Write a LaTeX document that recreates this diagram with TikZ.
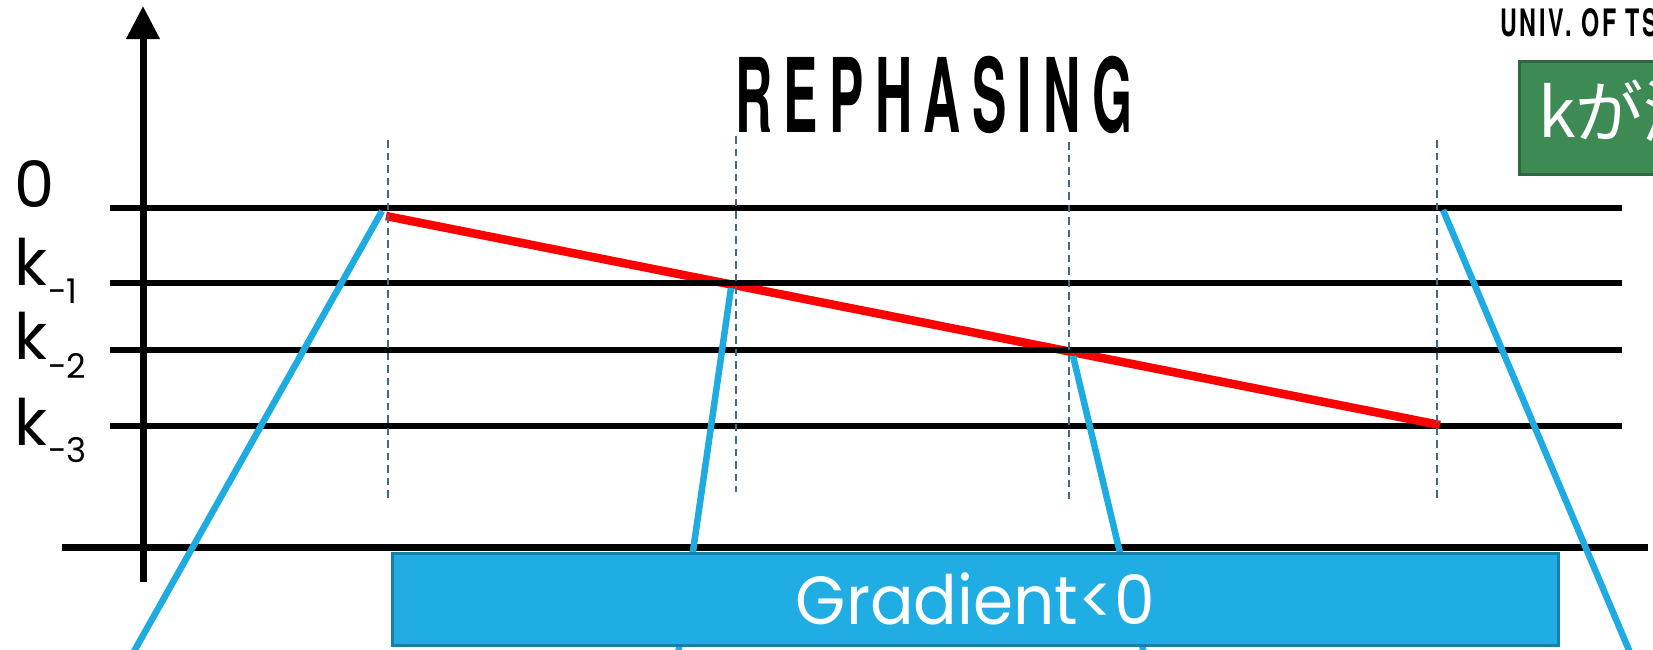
\documentclass[tikz,border=0pt]{standalone}
\usepackage{fontspec}
\setmainfont{Poppins}
\newfontfamily\condfont[LetterSpace=22]{TeX Gyre Heros}
\newfontfamily\condtightfont[LetterSpace=12]{TeX Gyre Heros}
\newfontfamily\cjkfont{Noto Sans CJK JP}
\usetikzlibrary{arrows.meta}

\definecolor{rayblue}{RGB}{29,171,226}
\definecolor{boxblue}{RGB}{31,173,227}
\definecolor{boxblueedge}{RGB}{24,128,168}
\definecolor{guideslate}{RGB}{69,104,133}
\definecolor{notegreen}{RGB}{62,138,85}
\definecolor{notegreenedge}{RGB}{47,104,64}

\newcommand{\lvlsub}[2]{\raisebox{-#1pt}{\fontsize{34}{34}\selectfont\kern1pt-#2}}

\tikzset{
  level/.style={line width=6pt, black},
  axisline/.style={line width=7pt, black},
  phase/.style={line width=8.5pt, red},
  guide/.style={line width=2pt, guideslate, dash pattern=on 7.5pt off 5pt},
  ray/.style={line width=6.5pt, rayblue},
  label/.style={anchor=base west, inner sep=0pt, font=\fontsize{64}{64}\selectfont},
  gradbox/.style={draw=boxblueedge, fill=boxblue, line width=2.5pt, inner sep=0pt,
    text=white, font=\fontsize{68}{68}\selectfont},
  notebox/.style={draw=notegreenedge, fill=notegreen, line width=2.5pt, inner sep=0pt},
}

\begin{document}
\begin{tikzpicture}[x=1pt, y=-1pt]
\useasboundingbox (0,0) rectangle (1653,649);

% end points of the wave-number levels
\coordinate (L0w) at (110,208);     \coordinate (L0e) at (1622,208);
\coordinate (L1w) at (110,282.5);   \coordinate (L1e) at (1622,282.5);
\coordinate (L2w) at (110,349.5);   \coordinate (L2e) at (1622,349.5);
\coordinate (L3w) at (110,426);     \coordinate (L3e) at (1622,426);

% axes
\coordinate (Xw) at (62,547);   \coordinate (Xe) at (1648,547);
\coordinate (Yb) at (143,582);  \coordinate (Yt) at (143,6);

% rephasing path
\coordinate (P0) at (386,216);
\coordinate (P3) at (1440,425);

% vertical guides
\coordinate (G1t) at (388,140);  \coordinate (G1b) at (388,499);
\coordinate (G2t) at (736,136);  \coordinate (G2b) at (736,492);
\coordinate (G3t) at (1069,142); \coordinate (G3b) at (1069,499);
\coordinate (G4t) at (1437,140); \coordinate (G4b) at (1437,499);

% rays leading down out of the frame
\coordinate (R1t) at (382,211);  \coordinate (R1b) at (128,662);
\coordinate (R2t) at (731,288);  \coordinate (R2b) at (677,662);
\coordinate (R3t) at (1073,356); \coordinate (R3b) at (1146,662);
\coordinate (R4t) at (1443,210); \coordinate (R4b) at (1634,662);

% lowest level sits under the red path, the others above it
\draw[level] (L3w) -- (L3e);
\draw[phase] (P0) -- (P3);
\draw[level] (L0w) -- (L0e);
\draw[level] (L1w) -- (L1e);
\draw[level] (L2w) -- (L2e);

\draw[axisline] (Xw) -- (Xe);
\draw[axisline, -{Triangle[width=32pt, length=33pt]}] (Yb) -- (Yt);

\draw[guide] (G1t) -- (G1b);
\draw[guide] (G2t) -- (G2b);
\draw[guide] (G3t) -- (G3b);
\draw[guide] (G4t) -- (G4b);

\draw[ray] (R1t) -- (R1b);
\draw[ray] (R2t) -- (R2b);
\draw[ray] (R3t) -- (R3b);
\draw[ray] (R4t) -- (R4b);

% level labels
\node[label] (lab0) at (14,207) {0};
\node[label] (lab1) at (14,285) {k\lvlsub{18}{1}};
\node[label] (lab2) at (14,359) {k\lvlsub{19}{2}};
\node[label] (lab3) at (14,445) {k\lvlsub{17}{3}};

% title and affiliation
\node[anchor=base west, inner sep=0pt] (title) at (735,132)
  {\scalebox{0.5}[1]{\condfont\bfseries\fontsize{103}{103}\selectfont REPHASING}};
\node[anchor=base west, inner sep=0pt] (univ) at (1500,36)
  {\resizebox{158pt}{28pt}{\condtightfont\bfseries\fontsize{40}{40}\selectfont UNIV. OF TS}};

% note box
\node[notebox, anchor=north west, minimum width=200pt, minimum height=113pt] (note) at (1518,60) {};
\node[anchor=base west, inner sep=0pt, text=white] (notetext) at (1538,137)
  {\cjkfont\fontsize{68}{68}\selectfont kが減};

% gradient box
\node[gradbox, anchor=north west, minimum width=1166pt, minimum height=92pt] (grad) at (391,552)
  {\scalebox{0.95}[1]{Gradient<0}};
\end{tikzpicture}
\end{document}
